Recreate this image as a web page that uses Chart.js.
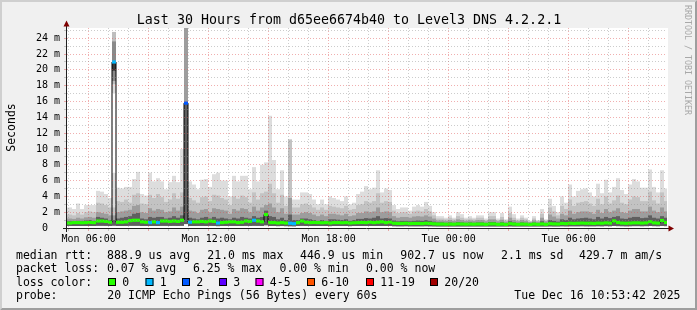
<!DOCTYPE html>
<html><head><meta charset="utf-8">
<script src="https://cdn.jsdelivr.net/npm/chart.js@4.4.1/dist/chart.umd.min.js"></script>
<style>html,body{margin:0;padding:0;background:#f0f0f0;}canvas{display:block;}</style>
</head><body>
<canvas id="c" width="697" height="310"></canvas>
<script>
// ---- time bins (12-minute consolidation), minutes since Mon 00:00 ----
const FIRST_BIN_CENTER = 292;
const BIN_MINUTES = 12;
const X_MIN = 295, X_MAX = 2095;           // Mon 04:55 .. Tue 10:55
const xTickMinutes = [360, 720, 1080, 1440, 1800];
const xTickLabels = ['Mon 06:00', 'Mon 12:00', 'Mon 18:00', 'Tue 00:00', 'Tue 06:00'];

// ---- smoke (ms) ----
const smokeMax = [
 2.6,2.6,2.4,3.1,2.4,2.9,2.9,2.9,4.7,4.6,
 4.3,3.8,7.0,5.1,5.0,5.2,5.2,6.2,7.1,4.3,
 4.1,7.0,5.9,6.3,5.9,4.9,5.8,6.6,5.8,10.0,
 25.5,5.9,5.5,4.9,6.1,6.2,5.2,6.8,7.0,6.0,
 6.0,4.0,6.6,5.9,6.6,6.6,4.9,7.7,5.9,8.0,
 8.3,14.2,8.6,4.9,7.3,4.0,11.2,3.6,3.6,4.5,
 4.5,4.3,3.6,3.0,3.6,3.0,4.0,3.8,3.6,3.4,
 4.0,3.0,3.2,4.3,4.6,5.3,4.9,5.1,7.3,4.5,
 5.0,4.8,2.9,2.4,2.6,2.6,2.2,2.7,2.9,2.7,
 3.3,2.8,2.0,1.5,1.5,1.3,1.6,1.3,2.0,1.75,
 1.3,1.5,1.3,1.6,1.6,1.2,2.0,2.0,1.2,1.9,
 1.1,2.7,1.75,1.2,1.6,1.3,0.9,1.5,1.0,2.4,
 1.1,3.7,2.8,2.0,4.0,3.2,5.5,4.0,4.7,4.9,
 5.0,4.5,4.0,5.6,4.4,6.1,4.5,5.2,6.3,4.8,
 4.3,5.5,6.2,5.9,5.1,5.1,7.4,5.2,4.5,7.3,
 5.0];
const smokeUpper = [
 1.7,1.7,1.6,1.9,1.7,2.0,2.1,2.0,3.2,3.1,
 2.9,2.6,2.6,3.4,3.3,3.6,3.2,4.2,4.4,3.1,
 3.0,4.2,3.8,4.3,3.9,3.3,3.6,4.4,3.7,4.5,
 25.5,3.8,3.5,3.2,3.9,4.0,3.4,4.2,4.1,3.8,
 3.6,2.9,4.0,3.7,4.1,3.9,3.2,4.5,3.6,4.4,
 4.6,5.6,4.4,3.2,4.2,2.8,11.2,2.6,2.6,3.0,
 3.1,2.9,2.6,2.3,2.6,2.3,2.8,2.7,2.6,2.5,
 2.8,2.3,2.4,2.9,3.0,3.4,3.2,3.4,4.4,3.2,
 3.4,3.3,2.2,1.9,2.0,2.0,1.8,2.1,2.2,2.1,
 2.4,2.1,1.6,1.2,1.2,1.1,1.3,1.1,1.5,1.3,
 1.1,1.2,1.1,1.3,1.3,1.0,1.5,1.5,1.0,1.4,
 0.95,1.9,1.3,1.0,1.3,1.1,0.85,1.2,0.9,1.8,
 0.95,2.6,2.1,1.6,2.8,2.4,3.6,2.8,3.2,3.3,
 3.4,3.1,2.8,3.7,3.0,4.0,3.1,3.5,4.1,3.2,
 3.0,3.6,4.0,3.9,3.4,3.4,4.6,3.5,3.1,4.5,
 3.4];
const smokeCore = [
 1.2,1.2,1.15,1.3,1.2,1.35,1.4,1.3,2.0,1.9,
 1.8,1.6,1.6,2.0,2.1,2.2,2.3,2.8,2.9,2.0,
 1.9,2.5,2.2,2.4,2.3,2.0,2.1,2.6,2.2,2.7,
 25.5,2.2,2.1,1.9,2.3,2.4,2.0,2.5,2.4,2.3,
 2.2,1.8,2.4,2.2,2.5,2.4,2.0,2.7,2.2,2.6,
 2.9,3.1,2.6,2.0,2.5,1.8,3.8,1.7,1.7,1.9,
 2.0,1.9,1.7,1.5,1.7,1.5,1.8,1.8,1.7,1.6,
 1.8,1.5,1.6,1.9,1.9,2.1,2.0,2.1,2.6,2.0,
 2.1,2.0,1.5,1.3,1.4,1.4,1.3,1.45,1.5,1.45,
 1.6,1.45,1.2,0.95,0.95,0.9,1.0,0.9,1.1,1.0,
 0.9,0.95,0.9,1.0,1.0,0.85,1.1,1.1,0.85,1.05,
 0.8,1.3,1.0,0.85,1.0,0.9,0.75,0.95,0.8,1.3,
 0.85,1.7,1.45,1.2,1.8,1.6,2.2,1.8,2.0,2.1,
 2.1,2.0,1.8,2.3,1.9,2.4,2.0,2.2,2.5,2.0,
 1.9,2.2,2.4,2.4,2.1,2.1,2.7,2.2,2.0,2.6,
 2.1];
const smokeDense = [
 0.85,0.85,0.8,0.9,0.85,0.95,1.0,0.9,1.4,1.3,
 1.2,1.0,1.0,1.2,1.3,1.4,1.5,1.8,1.9,1.2,
 1.1,1.4,1.3,1.4,1.4,1.2,1.3,1.5,1.3,1.6,
 15.8,1.3,1.2,1.1,1.3,1.4,1.2,1.4,1.2,1.3,
 1.2,1.1,1.3,1.2,1.4,1.3,1.2,1.5,1.3,1.4,
 2.2,1.5,1.4,1.1,1.3,1.0,1.7,1.0,1.0,1.2,
 1.2,1.1,1.0,0.9,1.0,0.9,1.1,1.1,1.05,1.0,
 1.1,0.9,1.0,1.15,1.15,1.25,1.2,1.3,1.5,1.2,
 1.25,1.2,0.95,0.85,0.9,0.9,0.85,0.9,0.95,0.9,
 1.0,0.9,0.8,0.7,0.7,0.65,0.7,0.65,0.75,0.7,
 0.65,0.7,0.65,0.7,0.7,0.62,0.75,0.75,0.62,0.72,
 0.6,0.85,0.7,0.62,0.7,0.65,0.58,0.68,0.6,0.85,
 0.62,1.0,0.9,0.8,1.1,1.0,1.3,1.1,1.2,1.25,
 1.3,1.2,1.1,1.4,1.2,1.4,1.25,1.4,1.5,1.2,
 1.15,1.3,1.4,1.4,1.25,1.3,1.6,1.3,1.2,1.5,
 1.3];
const smokeMin = [
 0.25,0.25,0.25,0.25,0.25,0.25,0.25,0.25,0.28,0.28,
 0.27,0.25,0.3,0.25,0.25,0.26,0.28,0.28,0.28,0.25,
 0.25,0.25,0.26,0.25,0.27,0.27,0.26,0.27,0.26,0.28,
 0.5,0.25,0.25,0.26,0.26,0.25,0.27,0.26,0.24,0.25,
 0.25,0.26,0.26,0.25,0.25,0.27,0.26,0.28,0.27,0.26,
 0.35,0.25,0.25,0.24,0.25,0.24,0.23,0.22,0.25,0.27,
 0.25,0.25,0.25,0.25,0.25,0.25,0.24,0.25,0.25,0.25,
 0.25,0.24,0.25,0.25,0.25,0.25,0.26,0.25,0.26,0.26,
 0.25,0.26,0.23,0.22,0.22,0.23,0.22,0.22,0.22,0.22,
 0.23,0.22,0.21,0.2,0.2,0.2,0.2,0.2,0.2,0.2,
 0.2,0.2,0.2,0.2,0.2,0.2,0.2,0.2,0.2,0.2,
 0.2,0.21,0.2,0.2,0.2,0.2,0.2,0.2,0.2,0.2,
 0.2,0.21,0.2,0.2,0.22,0.21,0.22,0.22,0.22,0.23,
 0.22,0.22,0.22,0.23,0.22,0.24,0.23,0.25,0.24,0.23,
 0.22,0.23,0.24,0.24,0.23,0.24,0.25,0.24,0.23,0.25,
 0.24];
const medianRtt = [
 0.63,0.63,0.68,0.68,0.66,0.68,0.7,0.68,0.88,0.88,
 0.83,0.73,21.0,0.73,0.73,0.78,0.93,0.98,0.98,0.78,
 0.73,0.68,0.78,0.68,0.88,0.88,0.83,0.88,0.83,0.98,
 15.8,0.73,0.78,0.78,0.83,0.78,0.88,0.83,0.63,0.68,
 0.73,0.78,0.78,0.68,0.73,0.88,0.83,0.98,0.88,0.78,
 1.7,0.68,0.68,0.63,0.68,0.63,0.6,0.55,0.68,0.88,
 0.73,0.68,0.7,0.68,0.66,0.68,0.63,0.68,0.68,0.66,
 0.68,0.63,0.66,0.68,0.7,0.68,0.73,0.68,0.73,0.78,
 0.68,0.73,0.6,0.58,0.58,0.6,0.56,0.58,0.58,0.56,
 0.6,0.58,0.53,0.5,0.5,0.48,0.5,0.48,0.52,0.5,
 0.48,0.5,0.48,0.5,0.5,0.46,0.52,0.52,0.46,0.5,
 0.45,0.55,0.5,0.46,0.5,0.48,0.45,0.5,0.46,0.52,
 0.46,0.55,0.52,0.5,0.58,0.55,0.6,0.58,0.6,0.62,
 0.6,0.6,0.58,0.62,0.6,0.65,0.62,0.9,0.7,0.62,
 0.6,0.62,0.65,0.65,0.62,0.65,0.8,0.65,0.62,0.95,
 0.7];
const lossCount = [
 0,0,0,0,0,0,0,0,0,0,
 0,0,1,0,0,0,0,0,0,0,
 0,1,0,1,0,0,0,0,0,0,
 2,1,0,0,0,0,0,0,1,0,
 0,0,0,0,0,0,0,1,0,0,
 0,0,0,0,0,0,1,1,0,0,
 0,0,0,0,0,0,0,0,0,0,
 0,0,0,0,0,0,0,0,0,0,
 0,0,0,0,0,0,0,0,0,0,
 0,0,0,0,0,0,0,0,0,0,
 0,0,0,0,0,0,0,0,0,0,
 0,0,0,0,0,0,0,0,0,0,
 0,0,0,0,0,0,0,0,0,0,
 0,0,0,0,0,0,0,0,0,0,
 0,0,0,0,0,0,0,0,0,0,
 0];
// detached upper smoke cloud of the first spike bin
const spikeBin = 12;
const spikeSmokeMax = [17.0, 24.8];
const spikeSmokeUpper = [18.2, 24.8];
const spikeSmokeCore = [18.6, 23.6];
const spikeSmokeDense = [19.9, 21.0];

// ---- legend texts ----
const lossLabels = ['0', '1', '2', '3', '4-5', '6-10', '11-19', '20/20'];
const lossColors = ['#26ff00', '#00b8ff', '#0059ff', '#5e00ff', '#ff00ff', '#ff5500', '#ff0000', '#a10000'];
const rttStats = ['888.9 us avg', '21.0 ms max', '446.9 us min', '902.7 us now', '2.1 ms sd', '429.7 m am/s'];
const lossStats = ['0.07 % avg', '6.25 % max', '0.00 % min', '0.00 % now'];

function lossColor(n) {
  if (n <= 0) return lossColors[0];
  if (n === 1) return lossColors[1];
  if (n === 2) return lossColors[2];
  if (n === 3) return lossColors[3];
  if (n <= 5) return lossColors[4];
  if (n <= 10) return lossColors[5];
  if (n <= 19) return lossColors[6];
  return lossColors[7];
}

const MONO = '"DejaVu Sans Mono", "Liberation Mono", monospace';
const MEDIAN_HALF = 0.2;
const times = smokeMax.map((_, k) => FIRST_BIN_CENTER + BIN_MINUTES * k);
const range = (lo, hi) => times.map((t, k) => ({x: t, y: [lo[k], hi[k]]}));
const barBase = {type: 'bar', grouped: false, barPercentage: 1, categoryPercentage: 1, borderWidth: 0, inflateAmount: 0};

const GRID = 'rgba(143,143,143,0.46)';
const MGRID = 'rgba(222,80,80,0.46)';

const rrdPlugin = {
  id: 'rrd',
  beforeDraw(chart) {
    const c = chart.ctx, a = chart.chartArea, W = chart.width, H = chart.height;
    c.save();
    c.fillStyle = '#f0f0f0'; c.fillRect(0, 0, W, H);
    c.fillStyle = '#cfcfcf';
    c.beginPath(); c.moveTo(0,0); c.lineTo(W,0); c.lineTo(W-2,2); c.lineTo(2,2); c.lineTo(2,H-2); c.lineTo(0,H); c.closePath(); c.fill();
    c.fillStyle = '#9e9e9e';
    c.beginPath(); c.moveTo(W,H); c.lineTo(0,H); c.lineTo(2,H-2); c.lineTo(W-2,H-2); c.lineTo(W-2,2); c.lineTo(W,0); c.closePath(); c.fill();
    c.fillStyle = '#ffffff'; c.fillRect(a.left, a.top, a.right - a.left + 1, a.bottom - a.top);
    c.restore();
  },
  afterDraw(chart) {
    const c = chart.ctx, a = chart.chartArea;
    c.save();
    // axes
    c.strokeStyle = '#202020'; c.lineWidth = 1;
    c.beginPath(); c.moveTo(a.left - 4, a.bottom + 0.5); c.lineTo(a.right + 3, a.bottom + 0.5); c.stroke();
    c.beginPath(); c.moveTo(a.left - 0.5, a.bottom + 4); c.lineTo(a.left - 0.5, a.top - 3); c.stroke();
    c.fillStyle = '#7f0000';
    c.beginPath(); c.moveTo(a.left - 0.5, a.top - 7.5); c.lineTo(a.left - 3.5, a.top - 1.5); c.lineTo(a.left + 2.5, a.top - 1.5); c.closePath(); c.fill();
    c.beginPath(); c.moveTo(a.right + 7, a.bottom + 0.5); c.lineTo(a.right + 1.5, a.bottom - 2.5); c.lineTo(a.right + 1.5, a.bottom + 3.5); c.closePath(); c.fill();
    // title
    c.fillStyle = '#000';
    c.font = '13.3px ' + MONO; c.textAlign = 'center'; c.textBaseline = 'alphabetic';
    c.fillText('Last 30 Hours from d65ee6674b40 to Level3 DNS 4.2.2.1', 349, 24);
    // y title
    c.save(); c.font = '11.5px ' + MONO; c.translate(15, 127.5); c.rotate(-Math.PI / 2);
    c.fillText('Seconds', 0, 0); c.restore();
    // watermark
    c.save(); c.font = '8.3px ' + MONO; c.fillStyle = '#a8a8a8'; c.textAlign = 'left';
    c.translate(685, 5); c.rotate(Math.PI / 2); c.fillText('RRDTOOL / TOBI OETIKER', 0, 0); c.restore();
    // legend
    c.font = '11.5px ' + MONO; c.textAlign = 'left'; c.fillStyle = '#000';
    const rttX = [107, 207.3, 300, 400.3, 501, 579];
    c.fillText('median rtt:', 16, 258.5);
    rttStats.forEach((s, i) => c.fillText(s, rttX[i], 258.5));
    const lossX = [107, 193, 279.5, 366];
    c.fillText('packet loss:', 16, 272);
    lossStats.forEach((s, i) => c.fillText(s, lossX[i], 272));
    c.fillText('loss color:', 16, 285.5);
    const boxX = [108, 145.5, 182, 219, 255.5, 307, 366, 430];
    lossLabels.forEach((l, i) => {
      c.fillStyle = lossColors[i]; c.fillRect(boxX[i], 278, 8, 8);
      c.strokeStyle = '#000'; c.strokeRect(boxX[i] + 0.5, 278.5, 7, 7);
      c.fillStyle = '#000'; c.fillText(l, boxX[i] + 14.3, 285.5);
    });
    c.fillText('probe:', 16, 299);
    c.fillText('20 ICMP Echo Pings (56 Bytes) every 60s', 107.3, 299);
    c.textAlign = 'right';
    c.fillText('Tue Dec 16 10:53:42 2025', 680.5, 299);
    c.restore();
  }
};

const datasets = [
  Object.assign({}, barBase, {label: 'smoke 1', data: range(smokeMin, smokeMax), backgroundColor: '#dddddd', order: 20}),
  Object.assign({}, barBase, {label: 'smoke 2', data: range(smokeMin, smokeUpper), backgroundColor: '#c3c3c3', order: 19}),
  Object.assign({}, barBase, {label: 'smoke 3', data: range(smokeMin, smokeCore), backgroundColor: '#9d9d9d', order: 18}),
  Object.assign({}, barBase, {label: 'smoke 4', data: range(smokeMin, smokeDense), backgroundColor: '#5f5f5f', order: 17}),
  Object.assign({}, barBase, {label: 'spike 1', data: [{x: times[spikeBin], y: spikeSmokeMax}], backgroundColor: '#dddddd', order: 16}),
  Object.assign({}, barBase, {label: 'spike 2', data: [{x: times[spikeBin], y: spikeSmokeUpper}], backgroundColor: '#bebebe', order: 15}),
  Object.assign({}, barBase, {label: 'spike 3', data: [{x: times[spikeBin], y: spikeSmokeCore}], backgroundColor: '#8a8a8a', order: 14}),
  Object.assign({}, barBase, {label: 'spike 4', data: [{x: times[spikeBin], y: spikeSmokeDense}], backgroundColor: '#3a3a3a', order: 13}),
  {type: 'line', label: 'median step', data: times.map((t, k) => ({x: t, y: medianRtt[k]})),
   stepped: 'middle', borderColor: '#000000', borderWidth: 1, pointRadius: 0, fill: false, order: 2},
  Object.assign({}, barBase, {label: 'median', data: times.map((t, k) => ({x: t, y: [medianRtt[k] - MEDIAN_HALF, medianRtt[k] + MEDIAN_HALF]})),
   backgroundColor: lossCount.map(lossColor), order: 1})
];

new Chart(document.getElementById('c'), {
  type: 'bar',
  data: {datasets},
  plugins: [rrdPlugin],
  options: {
    responsive: false, animation: false, devicePixelRatio: 1,
    layout: {padding: {top: 28, right: 30, left: 0, bottom: 0}},
    plugins: {legend: {display: false}, tooltip: {enabled: false}, title: {display: false}},
    scales: {
      x: {
        type: 'linear', position: 'bottom', min: X_MIN, max: X_MAX, offset: false,
        afterFit(s) { s.height = 82; },
        afterBuildTicks(s) { const t = []; for (let m = 300; m <= 2040; m += 60) t.push({value: m}); s.ticks = t; },
        grid: {z: 1, offset: false, lineWidth: 1, drawTicks: true, tickLength: 3,
          color: c => (c.tick && c.tick.value % 180 === 0) ? MGRID : GRID,
          tickColor: c => (c.tick && c.tick.value % 180 === 0) ? MGRID : GRID},
        border: {display: false, dash: [1, 2]},
        ticks: {autoSkip: false, maxRotation: 0, minRotation: 0, padding: 2, color: '#000',
          font: {family: MONO, size: 10},
          callback: v => { const i = xTickMinutes.indexOf(v); return i >= 0 ? xTickLabels[i] : ''; }}
      },
      y: {
        type: 'linear', position: 'left', min: 0, max: 25.3,
        afterFit(s) { s.width = 67; },
        afterBuildTicks(s) { const t = []; for (let v = 0; v <= 25; v++) t.push({value: v}); s.ticks = t; },
        grid: {z: 1, lineWidth: 1, drawTicks: true, tickLength: 3,
          color: c => (c.tick && c.tick.value === 0) ? 'rgba(0,0,0,0)' : ((c.tick && c.tick.value % 2 === 0) ? MGRID : GRID),
          tickColor: c => (c.tick && c.tick.value % 2 === 0) ? MGRID : GRID},
        border: {display: false, dash: [1, 2]},
        ticks: {autoSkip: false, padding: 4, color: '#000', font: {family: MONO, size: 10},
          callback: v => v === 0 ? '0  ' : (v % 2 === 0 ? v + ' m' : '')}
      }
    }
  }
});
</script>
</body></html>
